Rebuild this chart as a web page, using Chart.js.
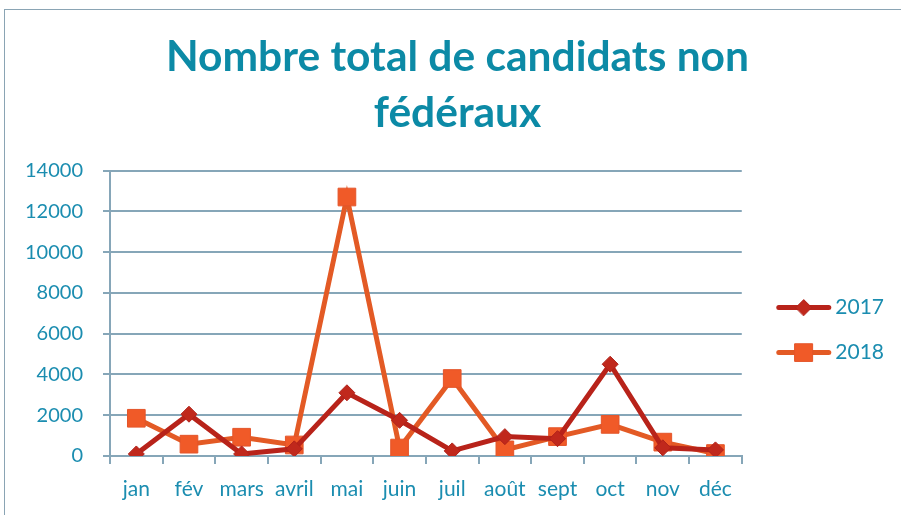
<!DOCTYPE html>
<html>
<head>
<meta charset="utf-8">
<script src="https://cdn.jsdelivr.net/npm/chart.js@4.4.0/dist/chart.umd.min.js"></script>
<style>
  html, body { margin: 0; padding: 0; background: #fff; }
  #wrap { position: relative; width: 901px; height: 515px; overflow: hidden; }
  #frame { position: absolute; left: 4px; top: 9px; width: 920px; height: 600px;
           border-left: 1px solid #8aa4b4; border-top: 1px solid #8aa4b4; }
  #chart { position: absolute; left: 0; top: 0; }
</style>
</head>
<body>
<div id="wrap">
  <div id="frame"></div>
  <canvas id="chart" width="901" height="515"></canvas>
</div>
<script>
const months = ['jan', 'fév', 'mars', 'avril', 'mai', 'juin', 'juil', 'août', 'sept', 'oct', 'nov', 'déc'];
const values2017 = [100, 2050, 100, 350, 3100, 1750, 250, 950, 850, 4500, 400, 300];
const values2018 = [1850, 580, 920, 540, 12700, 390, 3800, 300, 950, 1550, 680, 120];
const yTicks = [0, 2000, 4000, 6000, 8000, 10000, 12000, 14000];

const teal = '#1b8db0';
const gridColor = '#86a6b8';

// nudge the title a bit right, like the original
const titleShift = {
  id: 'titleShift',
  afterLayout(chart) {
    if (chart.titleBlock) {
      chart.titleBlock.left += 8;
      chart.titleBlock.right += 8;
    }
  }
};

// draws line + marker in each legend box
const legendMarkers = {
  id: 'legendMarkers',
  afterDraw(chart) {
    const lg = chart.legend;
    if (!lg || !lg.legendHitBoxes) return;
    const ctx = chart.ctx;
    lg.legendHitBoxes.forEach((hb, i) => {
      const ds = chart.data.datasets[i];
      const x0 = hb.left + 11, x1 = hb.left + 65;
      const cy = hb.top + hb.height / 2;
      const x = (x0 + x1) / 2;
      const r = ds.pointRadius;
      ctx.save();
      ctx.strokeStyle = ds.borderColor;
      ctx.lineWidth = ds.borderWidth;
      ctx.lineCap = 'round';
      ctx.beginPath();
      ctx.moveTo(x0 + 2, cy);
      ctx.lineTo(x1 - 2, cy);
      ctx.stroke();
      ctx.fillStyle = ds.pointBackgroundColor;
      ctx.strokeStyle = ds.pointBorderColor;
      ctx.lineWidth = 1;
      ctx.beginPath();
      if (ds.pointStyle === 'rect') {
        const s = Math.SQRT1_2 * r;
        ctx.rect(x - s, cy - s, 2 * s, 2 * s);
      } else {
        ctx.moveTo(x - r, cy); ctx.lineTo(x, cy - r); ctx.lineTo(x + r, cy); ctx.lineTo(x, cy + r); ctx.closePath();
      }
      ctx.fill();
      ctx.stroke();
      ctx.restore();
    });
  }
};

new Chart(document.getElementById('chart'), {
  type: 'line',
  data: {
    labels: months,
    datasets: [
      {
        label: '2017',
        data: values2017,
        borderColor: '#b8231a',
        backgroundColor: '#c0281c',
        borderWidth: 5,
        pointStyle: 'rectRot',
        pointRadius: 8,
        pointHoverRadius: 8,
        pointBackgroundColor: '#c0281c',
        pointBorderColor: '#b0221a',
        pointBorderWidth: 1,
        tension: 0
      },
      {
        label: '2018',
        data: values2018,
        borderColor: '#e35a25',
        backgroundColor: '#f05a28',
        borderWidth: 5,
        pointStyle: 'rect',
        pointRadius: 12.5,
        pointHoverRadius: 12.5,
        pointBackgroundColor: '#f05a28',
        pointBorderColor: '#e4552a',
        pointBorderWidth: 1,
        tension: 0
      }
    ]
  },
  options: {
    responsive: false,
    animation: false,
    layout: { padding: { left: 5, right: 7, top: 18, bottom: 0 } },
    plugins: {
      title: {
        display: true,
        text: ['Nombre total de candidats non', 'fédéraux'],
        color: '#0c8aa6',
        font: { family: 'Lato', size: 42.5, weight: 'bold', lineHeight: 1.3 },
        padding: { top: 12, bottom: 30 }
      },
      legend: {
        display: true,
        position: 'right',
        align: 'center',
        title: { display: true, text: ' ', font: { size: 1 }, padding: { top: 126, bottom: 0 } },
        labels: {
          boxWidth: 59,
          boxHeight: 20,
          padding: 24,
          color: teal,
          font: { family: 'Lato', size: 21 },
          generateLabels(chart) {
            return chart.data.datasets.map((ds, i) => ({
              text: ds.label,
              fillStyle: 'rgba(0,0,0,0)',
              strokeStyle: 'rgba(0,0,0,0)',
              lineWidth: 0,
              fontColor: teal,
              datasetIndex: i
            }));
          }
        }
      },
      tooltip: { enabled: false }
    },
    scales: {
      x: {
        offset: true,
        grid: {
          display: true,
          offset: true,
          drawOnChartArea: false,
          color: gridColor,
          lineWidth: 2,
          tickLength: 8
        },
        border: { display: true, color: gridColor, width: 2 },
        ticks: {
          color: teal,
          font: { family: 'Lato', size: 21, lineHeight: 1.0 },
          padding: 15,
          maxRotation: 0,
          autoSkip: false
        }
      },
      y: {
        min: 0,
        max: 14000,
        afterBuildTicks(scale) {
          scale.ticks = yTicks.map(v => ({ value: v }));
        },
        grid: {
          color: gridColor,
          lineWidth: 2,
          tickLength: 7
        },
        border: { display: true, color: gridColor, width: 2 },
        ticks: {
          color: teal,
          font: { family: 'Lato', size: 20 },
          padding: 20,
          callback: v => String(v)
        }
      }
    }
  },
  plugins: [titleShift, legendMarkers]
});
</script>
</body>
</html>
